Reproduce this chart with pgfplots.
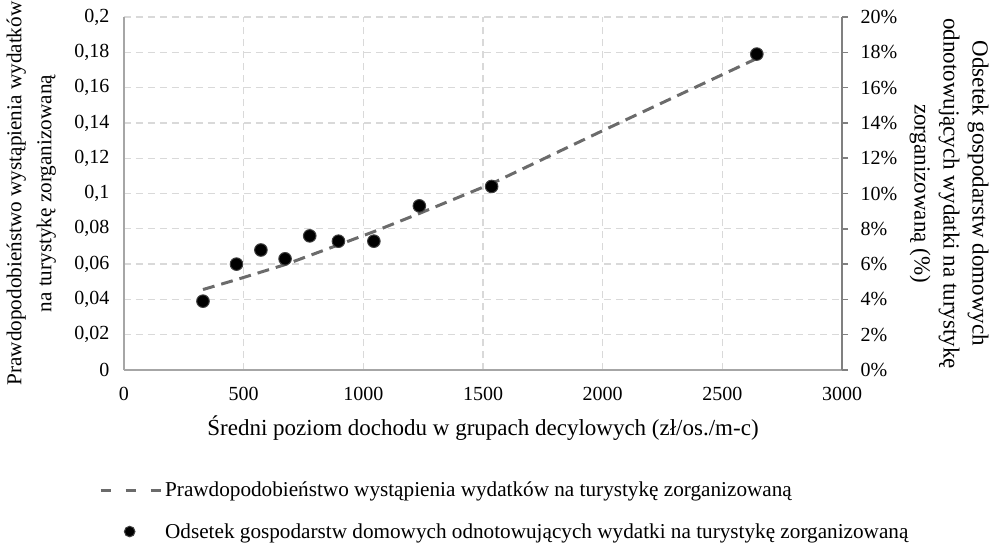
\documentclass[border=0pt]{standalone}
\usepackage{fontspec}
\setmainfont{Liberation Serif}
\usepackage{pgfplots}
\pgfplotsset{compat=1.18}
\definecolor{gridc}{HTML}{D9D9D9}
\definecolor{axc}{HTML}{A6A6A6}
\definecolor{raxc}{HTML}{808080}
\definecolor{linec}{HTML}{6B6B6B}
\definecolor{ptedge}{HTML}{404040}

\pgfplotsset{
  lineleg/.style={legend image code/.code={\draw[##1, dash pattern=on 10bp off 15bp] (0bp,0bp) -- (61bp,0bp);}},
  markleg/.style={legend image code/.code={\path[draw=none] (0bp,0bp) -- (61bp,0bp); \draw[##1] plot coordinates {(29bp,0bp)};}},
}

\pgfplotstableread{
x p
330 0.0456
470 0.0512
673 0.0597
896 0.0709
1044 0.0784
1234 0.0887
1536 0.1056
2000 0.1356
2644 0.1765
}\probtable

\pgfplotstableread{
x s
330 3.9
470 6.0
572 6.8
673 6.3
776 7.6
896 7.3
1044 7.3
1234 9.3
1536 10.4
2644 17.9
}\sharetable

\begin{document}
\begin{tikzpicture}[font=\fontsize{20bp}{24bp}\selectfont]
\begin{axis}[
  scale only axis, width=718bp, height=353bp,
  xmin=0, xmax=3000, ymin=0, ymax=0.2,
  axis lines*=left,
  axis line style={draw=axc, line width=1.5bp},
  xtick={0,500,1000,1500,2000,2500,3000},
  ytick={0,0.02,0.04,0.06,0.08,0.1,0.12,0.14,0.16,0.18,0.2},
  major tick length=0pt,
  grid=major,
  major grid style={draw=gridc, line width=1.3bp, dash pattern=on 7bp off 5bp},
  scaled y ticks=false, scaled x ticks=false,
  /pgf/number format/assume math mode=true,
  xticklabel style={/pgf/number format/set thousands separator={}, yshift=-14bp},
  yticklabel style={/pgf/number format/fixed, /pgf/number format/use comma, /pgf/number format/precision=2, xshift=-11bp},
  xlabel={Średni poziom dochodu w grupach decylowych (zł/os./m-c)},
  xlabel style={at={(rel axis cs:0.5,-0.165)}, anchor=center, font=\fontsize{23bp}{29bp}\selectfont},
  ylabel={Prawdopodobieństwo wystąpienia wydatków\\na turystykę zorganizowaną},
  ylabel style={at={(rel axis cs:-0.129,0.5)}, anchor=center, align=center, inner sep=0pt, font=\fontsize{21.2bp}{30bp}\selectfont},
  legend style={at={(rel axis cs:-0.039,-0.306)}, anchor=north west, draw=none, fill=none,
    row sep=21bp, cells={anchor=west}, font=\fontsize{21.2bp}{25bp}\selectfont},
]
\addplot[draw=linec, line width=3bp, dash pattern=on 12bp off 7bp, no markers, lineleg]
  table[x=x, y=p] {\probtable};
\addlegendentry{Prawdopodobieństwo wystąpienia wydatków na turystykę zorganizowaną}
\addlegendimage{only marks, mark=*, mark size=5.3bp, mark options={fill=black, draw=ptedge, line width=1bp}, markleg}
\addlegendentry{Odsetek gospodarstw domowych odnotowujących wydatki na turystykę zorganizowaną}
\coordinate (bbA) at (rel axis cs:-0.1727,1.0482);
\coordinate (bbB) at (rel axis cs:1.2103,-0.4873);
\end{axis}
\begin{axis}[
  scale only axis, width=718bp, height=353bp,
  xmin=0, xmax=3000, ymin=0, ymax=20,
  axis x line=none, axis y line*=right,
  axis line style={draw=raxc, line width=1.5bp},
  ytick={0,2,4,6,8,10,12,14,16,18,20},
  /pgf/number format/assume math mode=true,
  yticklabel={\pgfmathprintnumber{\tick}\%},
  tick align=outside, major tick length=6bp,
  tick style={draw=raxc, line width=1.5bp},
  yticklabel style={xshift=9bp},
  ylabel={Odsetek gospodarstw domowych\\odnotowujących wydatki na turystykę\\zorganizowaną (\%)},
  ylabel style={at={(rel axis cs:1.149,0.5)}, anchor=center, align=center, rotate=180, inner sep=0pt, font=\fontsize{23bp}{29bp}\selectfont},
]
\addplot[only marks, mark=*, mark size=6.3bp, mark options={fill=black, draw=ptedge, line width=1bp}]
  table[x=x, y=s] {\sharetable};
\end{axis}
\pgfresetboundingbox
\path (bbA) rectangle (bbB);
\end{tikzpicture}
\end{document}
